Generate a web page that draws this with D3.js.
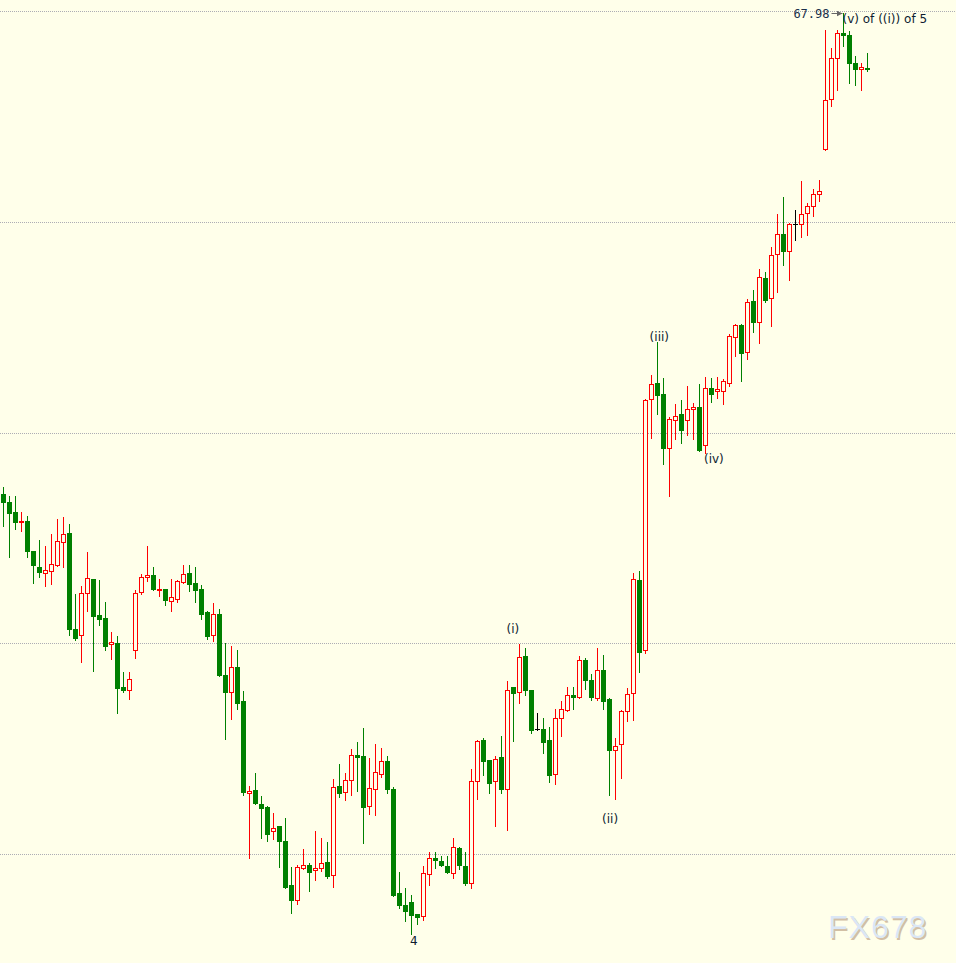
<!DOCTYPE html>
<html><head><meta charset="utf-8">
<script src="https://cdn.jsdelivr.net/npm/d3@7"></script>
<style>html,body{margin:0;padding:0;background:#ffffea;overflow:hidden}</style>
</head><body><svg id="c" width="956" height="963"></svg>
<script>
// ---- data (price values) ----
const opens = [63.42,63.34,63.25,63.15,63.16,62.88,62.72,62.67,62.69,62.74,62.96,63.05,62.14,62.08,62.48,62.61,62.27,62.24,61.99,62.00,
61.59,61.56,61.94,62.49,62.63,62.65,62.51,62.52,62.40,62.42,62.58,62.67,62.57,62.52,62.30,62.08,62.28,61.70,61.54,61.78,
61.45,60.58,60.61,60.47,60.45,60.22,60.27,60.12,59.71,59.56,59.87,59.90,59.85,59.87,59.92,59.80,60.65,60.59,60.70,60.94,
60.93,60.46,60.62,60.76,60.88,60.62,59.63,59.52,59.54,59.43,59.41,59.81,59.96,59.93,59.89,59.82,60.06,59.89,59.72,60.69,
61.08,60.89,60.69,60.92,60.62,61.59,61.54,61.88,61.56,61.19,61.19,61.08,60.76,61.29,61.37,61.51,61.49,61.84,61.65,61.48,
61.75,61.47,60.99,61.04,61.36,61.53,62.60,61.94,64.32,64.47,64.37,63.85,64.12,64.18,64.12,64.22,64.24,63.88,64.42,64.40,
64.40,64.47,64.91,65.02,64.77,65.25,65.05,65.47,65.28,65.70,65.89,65.72,65.98,65.98,66.09,66.15,66.27,66.69,67.17,67.56,
67.79,67.78,67.51,67.45,67.46];
const highs = [63.48,63.40,63.40,63.25,63.21,62.88,62.98,62.92,63.04,63.18,63.20,63.13,62.47,62.54,62.87,62.61,62.60,62.39,62.11,62.07,
61.73,61.73,62.51,62.66,62.92,62.72,62.61,62.52,62.61,62.60,62.74,62.74,62.72,62.55,62.31,62.38,62.33,62.00,61.97,61.94,
61.55,60.65,60.77,60.55,60.46,60.39,60.27,60.34,59.88,59.90,60.05,59.91,60.22,60.15,60.11,60.71,60.85,60.77,61.00,61.06,
61.20,60.91,61.04,61.01,60.93,60.64,59.83,59.68,59.61,59.43,59.89,60.02,60.02,59.98,59.98,60.15,60.07,60.02,60.81,61.08,
61.10,60.89,60.93,61.12,61.64,61.59,61.99,61.96,61.56,61.34,61.29,61.21,61.38,61.45,61.59,61.59,61.88,61.86,61.71,61.96,
61.89,61.48,61.10,61.37,61.58,62.67,62.69,64.32,64.55,64.86,64.52,64.15,64.27,64.31,64.44,64.28,64.46,64.53,64.52,64.53,
64.51,64.94,65.03,65.03,65.27,65.35,65.55,65.53,65.76,66.08,66.24,65.99,66.11,66.39,66.18,66.31,66.40,67.82,67.65,67.82,
67.98,67.81,67.58,67.51,67.60];
const lows = [63.11,62.82,63.09,63.07,62.82,62.57,62.63,62.54,62.56,62.73,62.72,62.08,62.03,61.82,62.31,61.74,62.17,61.94,61.85,61.34,
61.54,61.47,61.86,62.47,62.59,62.51,62.45,62.36,62.31,62.39,62.57,62.50,62.39,62.23,62.04,62.02,61.69,61.09,61.28,61.38,
60.56,59.96,60.47,60.15,60.12,60.14,59.88,59.68,59.44,59.53,59.86,59.65,59.75,59.84,59.77,59.69,60.54,60.51,60.56,60.60,
60.10,60.38,60.37,60.73,60.58,59.60,59.49,59.36,59.24,59.34,59.37,59.71,59.87,59.89,59.82,59.77,59.86,59.71,59.68,60.52,
60.75,60.58,60.27,60.58,60.23,61.07,61.43,61.51,61.15,61.18,60.96,60.68,60.66,61.12,61.36,61.38,61.48,61.57,61.46,61.46,
61.38,60.56,60.52,60.72,61.26,61.27,61.73,61.91,63.95,64.18,63.70,63.40,63.94,63.90,63.98,63.94,63.83,63.81,64.29,64.33,
64.27,64.44,64.73,64.49,64.70,64.96,64.85,65.24,65.01,65.34,65.59,65.45,65.83,65.86,65.88,66.06,66.20,66.68,67.10,67.25,
67.67,67.32,67.30,67.25,67.43];
const closes = [63.34,63.24,63.15,63.16,62.88,62.74,62.68,62.70,62.75,62.97,63.04,62.14,62.05,62.48,62.62,62.26,62.23,61.97,62.01,61.58,
61.56,61.66,62.48,62.63,62.65,62.52,62.52,62.41,62.44,62.59,62.66,62.56,62.51,62.28,62.07,62.28,61.70,61.54,61.78,61.43,
60.59,60.60,60.48,60.44,60.19,60.25,60.12,59.69,59.56,59.88,59.90,59.83,59.87,59.91,59.79,60.64,60.58,60.70,60.94,60.92,
60.45,60.63,60.78,60.88,60.62,59.61,59.52,59.46,59.42,59.40,59.82,59.96,59.94,59.90,59.83,60.07,59.90,59.72,60.69,61.07,
60.88,60.67,60.90,60.62,61.56,61.53,61.87,61.56,61.18,61.19,61.06,60.75,61.29,61.38,61.51,61.49,61.84,61.65,61.49,61.75,
61.45,60.99,61.03,61.36,61.52,62.61,61.92,64.31,64.46,64.36,63.85,64.13,64.16,64.03,64.22,64.24,63.84,64.42,64.37,64.41,
64.49,64.92,65.02,64.76,65.24,65.05,65.48,65.26,65.69,65.89,65.72,65.98,65.98,66.08,66.15,66.27,66.29,67.16,67.56,67.79,
67.78,67.51,67.45,67.47,67.45];
const gridLevels = [60, 62, 64, 66, 68];
const waveLabels = [
  {text: "4",     bar: 68.4,  price: 59.18},
  {text: "(i)",   bar: 84.9,  price: 62.14},
  {text: "(ii)",  bar: 101.1, price: 60.34},
  {text: "(iii)", bar: 109.3, price: 64.91},
  {text: "(iv)",  bar: 118.4, price: 63.75}
];
const topLabel = "(v) of ((i)) of 5";
const watermark = "FX678";

// ---- drawing ----
const W = 956, H = 963, BG = "#ffffea";
const RED = "#ff0000", GREEN = "#008000";
const svg = d3.select("#c");
svg.append("rect").attr("width", W).attr("height", H).attr("fill", BG);

const n = opens.length;
const x = d3.scaleLinear().domain([0, n - 1]).range([3.5, 3.5 + 6 * (n - 1)]);
const y = d3.scaleLinear().domain([60, 66]).range([854, 222]);
const ry = v => Math.round(y(v));

// grid
svg.append("g").selectAll("line").data(gridLevels).join("line")
  .attr("x1", 0).attr("x2", W)
  .attr("y1", d => ry(d) + 0.5).attr("y2", d => ry(d) + 0.5)
  .attr("stroke", "#adadb4").attr("stroke-width", 1)
  .attr("stroke-dasharray", "1,1");

const bars = d3.range(n).map(i => ({i, o: opens[i], h: highs[i], l: lows[i], c: closes[i]}));
const col = d => d.c > d.o ? RED : (d.c < d.o ? GREEN : "#000");

const g = svg.append("g");
// wicks
g.selectAll(".wick").data(bars).join("rect").attr("class", "wick")
  .attr("x", d => x(d.i) - 0.5).attr("width", 1)
  .attr("y", d => ry(d.h)).attr("height", d => ry(d.l) - ry(d.h) + 1)
  .attr("fill", col);
// bodies
bars.forEach(d => {
  const cx = x(d.i);
  if (d.c > d.o) {
    const t = ry(d.c), b = ry(d.o);
    if (b - t <= 1) {
      g.append("rect").attr("x", cx - 2.5).attr("width", 5).attr("y", t).attr("height", b - t + 1).attr("fill", RED);
    } else {
      g.append("rect").attr("x", cx - 2).attr("width", 4).attr("y", t + 0.5).attr("height", b - t)
        .attr("fill", BG).attr("stroke", RED).attr("stroke-width", 1);
    }
  } else if (d.c < d.o) {
    const t = ry(d.o), b = ry(d.c);
    g.append("rect").attr("x", cx - 2.5).attr("width", 5).attr("y", t).attr("height", Math.max(1, b - t + 1)).attr("fill", GREEN);
  } else {
    g.append("rect").attr("x", cx - 2.5).attr("width", 5).attr("y", ry(d.o)).attr("height", 1).attr("fill", "#000");
  }
});

// wave labels
const TXT = "#0d1b30";
svg.append("g").selectAll("text").data(waveLabels).join("text")
  .attr("x", d => x(d.bar)).attr("y", d => y(d.price)).attr("dy", "0.36em")
  .attr("text-anchor", "middle")
  .attr("font-family", "DejaVu Sans, Verdana, sans-serif").attr("font-size", 12)
  .attr("fill", TXT).text(d => d.text);

// top marker
const hi = d3.maxIndex(highs);
const hx = x(hi), hy = ry(highs[hi]) + 0.5;
svg.append("defs").append("marker").attr("id", "ah").attr("viewBox", "0 0 6 6")
  .attr("refX", 6).attr("refY", 3).attr("markerWidth", 6).attr("markerHeight", 6)
  .attr("orient", "auto").append("path").attr("d", "M0,0L6,3L0,6Z").attr("fill", "#666");
svg.append("line").attr("x1", hx - 12).attr("x2", hx - 1).attr("y1", hy).attr("y2", hy)
  .attr("stroke", "#666").attr("stroke-width", 1).attr("marker-end", "url(#ah)");
svg.append("text").attr("x", hx - 14).attr("y", hy).attr("dy", "0.36em").attr("text-anchor", "end")
  .attr("font-family", "DejaVu Sans Mono, monospace").attr("font-size", 12).attr("fill", "#1a2f4a")
  .text(d3.format(".2f")(highs[hi]));
svg.append("text").attr("x", hx - 1).attr("y", y(67.93)).attr("dy", "0.36em").attr("text-anchor", "start")
  .attr("font-family", "DejaVu Sans, Verdana, sans-serif").attr("font-size", 12).attr("fill", TXT)
  .text(topLabel);

// watermark
const wm = svg.append("g").attr("font-family", "Liberation Sans, Arial, sans-serif").attr("font-size", 32)
  .attr("letter-spacing", 1);
wm.append("text").attr("x", 829.5).attr("y", 939.5).attr("fill", "#d2bfa5").text(watermark);
wm.append("text").attr("x", 828).attr("y", 938).attr("fill", "#dbe7f6").text(watermark);
</script>
</body></html>
